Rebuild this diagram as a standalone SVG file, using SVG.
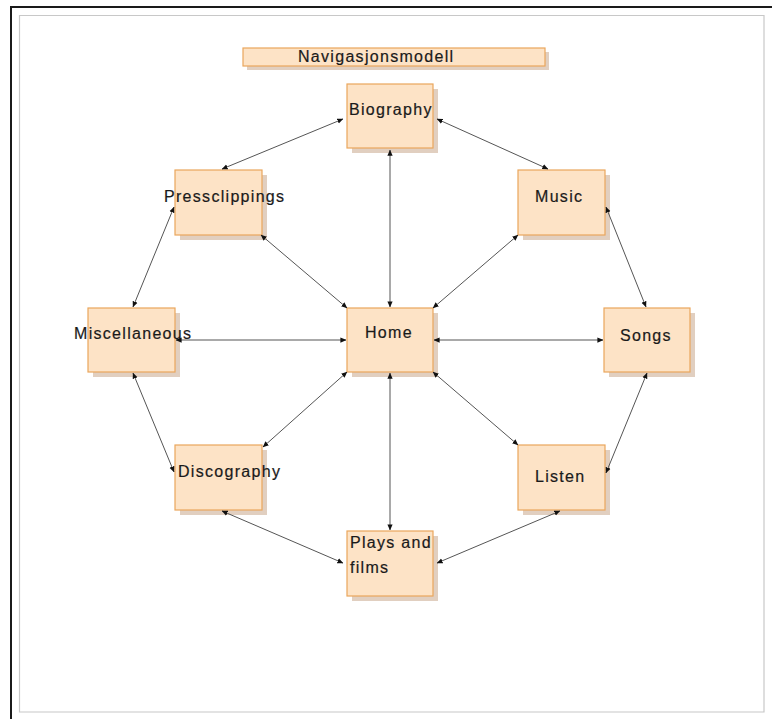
<svg xmlns="http://www.w3.org/2000/svg" width="772" height="719" viewBox="0 0 772 719">
<defs>
<marker id="ah" viewBox="0 0 8 8" refX="7.5" refY="4" markerWidth="6" markerHeight="6" orient="auto-start-reverse" markerUnits="userSpaceOnUse">
<path d="M0,0.5 L8,4 L0,7.5 z" fill="#111"/>
</marker>
</defs>
<style>
.sh{fill:#d9c3b0;opacity:0.8}
.bx{fill:#fde3c6;stroke:#eaa65c;stroke-width:1.2}
.t{font-family:"Liberation Sans",Arial,sans-serif;font-size:16px;letter-spacing:1.3px;fill:#1a1a1a;stroke:#1a1a1a;stroke-width:0.2}
.c{stroke:#555;stroke-width:1;fill:none;marker-start:url(#ah);marker-end:url(#ah)}
</style>
<rect width="772" height="719" fill="#fff"/>
<path d="M11,719 V7 H772" fill="none" stroke="#1a1a1a" stroke-width="2"/>
<path d="M19.5,712 V15.5 H764 V712 Z" fill="none" stroke="#c8c8c8" stroke-width="1.2"/>

<g id="title">
<rect class="sh" x="247" y="52" width="302" height="18"/>
<rect class="bx" x="243" y="48" width="302" height="18"/>
<text class="t" x="298" y="62">Navigasjonsmodell</text>
</g>

<g id="biography">
<rect class="sh" x="352" y="89" width="86" height="64"/>
<rect class="bx" x="347" y="84" width="86" height="64"/>
<text class="t" x="349" y="115">Biography</text>
</g>
<g id="pressclippings">
<rect class="sh" x="180" y="175" width="87" height="65"/>
<rect class="bx" x="175" y="170" width="87" height="65"/>
<text class="t" x="164" y="202">Pressclippings</text>
</g>
<g id="music">
<rect class="sh" x="523" y="175" width="87" height="65"/>
<rect class="bx" x="518" y="170" width="87" height="65"/>
<text class="t" x="535" y="202">Music</text>
</g>
<g id="miscellaneous">
<rect class="sh" x="93" y="313" width="87" height="64"/>
<rect class="bx" x="88" y="308" width="87" height="64"/>
<text class="t" x="74" y="339">Miscellaneous</text>
</g>
<g id="home">
<rect class="sh" x="352" y="313" width="86" height="64"/>
<rect class="bx" x="347" y="308" width="86" height="64"/>
<text class="t" x="365" y="338">Home</text>
</g>
<g id="songs">
<rect class="sh" x="609" y="313" width="86" height="64"/>
<rect class="bx" x="604" y="308" width="86" height="64"/>
<text class="t" x="620" y="341">Songs</text>
</g>
<g id="discography">
<rect class="sh" x="180" y="450" width="87" height="65"/>
<rect class="bx" x="175" y="445" width="87" height="65"/>
<text class="t" x="178" y="477">Discography</text>
</g>
<g id="listen">
<rect class="sh" x="523" y="450" width="87" height="65"/>
<rect class="bx" x="518" y="445" width="87" height="65"/>
<text class="t" x="535" y="482">Listen</text>
</g>
<g id="plays">
<rect class="sh" x="352" y="536" width="86" height="65"/>
<rect class="bx" x="347" y="531" width="86" height="65"/>
<text class="t" x="350" y="548">Plays and</text>
<text class="t" x="350" y="573">films</text>
</g>

<g id="connectors">
<line class="c" x1="343" y1="119" x2="222" y2="169"/>
<line class="c" x1="437" y1="119" x2="548" y2="169"/>
<line class="c" x1="390" y1="150" x2="390" y2="307"/>
<line class="c" x1="261" y1="235" x2="347" y2="308"/>
<line class="c" x1="518" y1="235" x2="433" y2="308"/>
<line class="c" x1="174" y1="207" x2="133" y2="307"/>
<line class="c" x1="606" y1="207" x2="646" y2="307"/>
<line class="c" x1="176" y1="340" x2="346" y2="340"/>
<line class="c" x1="434" y1="340" x2="603" y2="340"/>
<line class="c" x1="133" y1="373" x2="174" y2="472"/>
<line class="c" x1="347" y1="372" x2="263" y2="447"/>
<line class="c" x1="433" y1="372" x2="518" y2="445"/>
<line class="c" x1="390" y1="373" x2="390" y2="530"/>
<line class="c" x1="647" y1="373" x2="606" y2="473"/>
<line class="c" x1="222" y1="511" x2="343" y2="563"/>
<line class="c" x1="560" y1="511" x2="437" y2="563"/>
</g>
</svg>
